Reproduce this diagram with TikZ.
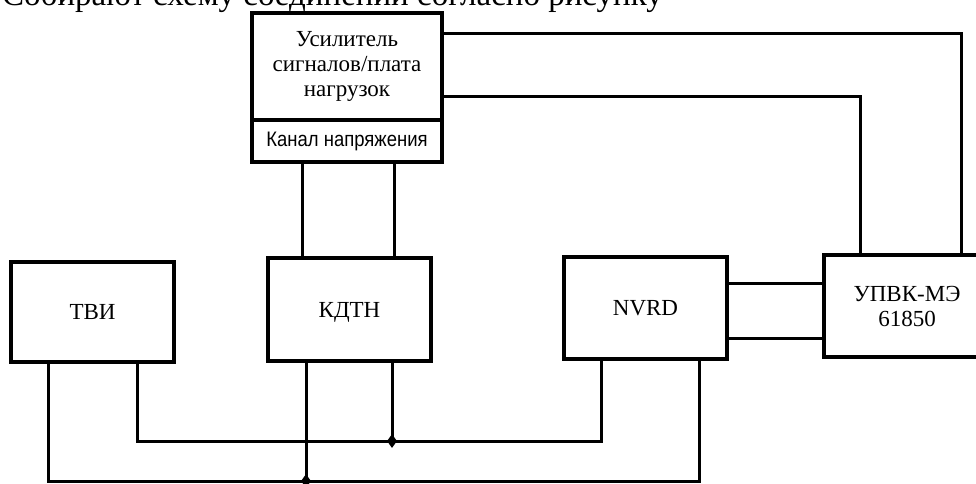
\documentclass[tikz,border=0pt]{standalone}
\usepackage{fontspec}
\setmainfont{Liberation Serif}
\newfontfamily\narrowsans[FakeStretch=0.88]{Liberation Sans}
\usetikzlibrary{positioning,shapes.geometric}

\begin{document}
\begin{tikzpicture}[x=1pt,y=-1pt,
  blk/.style={draw,line width=3.6pt,outer sep=0pt,inner sep=0pt,align=center,font=\fontsize{23}{25}\selectfont},
  wire/.style={line width=3pt},
  dot/.style={diamond,fill,inner sep=0pt,minimum width=10pt,minimum height=14pt}]
\useasboundingbox (0,0) rectangle (976,483);
\node[anchor=base west,inner sep=0pt,font=\fontsize{33}{36}\selectfont] (head) at (2,5) {Собирают схему соединений согласно рисунку};
\node[blk,minimum width=190,minimum height=107] (amp) at (347,66.5) {Усилитель\\сигналов/плата\\нагрузок};
\node[blk,minimum width=190,minimum height=42,font=\narrowsans\fontsize{21}{24}\selectfont] (chan) [below=0pt of amp] {Канал напряжения};
\node[blk,minimum width=163,minimum height=100] (tvi) at (92.5,312) {ТВИ};
\node[blk,minimum width=163,minimum height=103,text depth=0pt] (kdtn) at (349.5,309.5) {КДТН};
\node[blk,minimum width=163,minimum height=102] (nvrd) at (645.5,308) {NVRD};
\node[blk,minimum width=166,minimum height=102] (upvk) at (907,306) {УПВК-МЭ\\61850};
\node[dot] (dot1) at (392,441) {};
\node[dot] (dot2) at (306,481) {};

\coordinate (k1) at ([xshift=-47.5pt]kdtn.north);
\coordinate (k2) at ([xshift=44.5pt]kdtn.north);
\coordinate (k3) at ([xshift=-43.5pt]kdtn.south);
\coordinate (k4) at ([xshift=42.5pt]kdtn.south);
\coordinate (t1) at ([xshift=-44.5pt]tvi.south);
\coordinate (t2) at ([xshift=44.5pt]tvi.south);
\coordinate (n1) at ([xshift=-44.5pt]nvrd.south);
\coordinate (n2) at ([xshift=53.5pt]nvrd.south);
\coordinate (n3) at ([yshift=25pt]nvrd.east);
\coordinate (n4) at ([yshift=-30pt]nvrd.east);

\draw[wire] (k1) -- (k1 |- chan.south);
\draw[wire] (k2) -- (k2 |- chan.south);
\draw[wire] ([yshift=-20pt]amp.north east) -| ([xshift=54pt]upvk.north);
\draw[wire] ([yshift=-83pt]amp.north east) -| ([xshift=-47pt]upvk.north);
\draw[wire] (n3) -- (n3 -| upvk.west);
\draw[wire] (n4) -- (n4 -| upvk.west);
\draw[wire] (t2) |- (dot1.center) -| (n1);
\draw[wire] (k4) -- (dot1.center);
\draw[wire] (t1) |- (dot2.center) -| (n2);
\draw[wire] (k3) -- (dot2.center);
\end{tikzpicture}
\end{document}
